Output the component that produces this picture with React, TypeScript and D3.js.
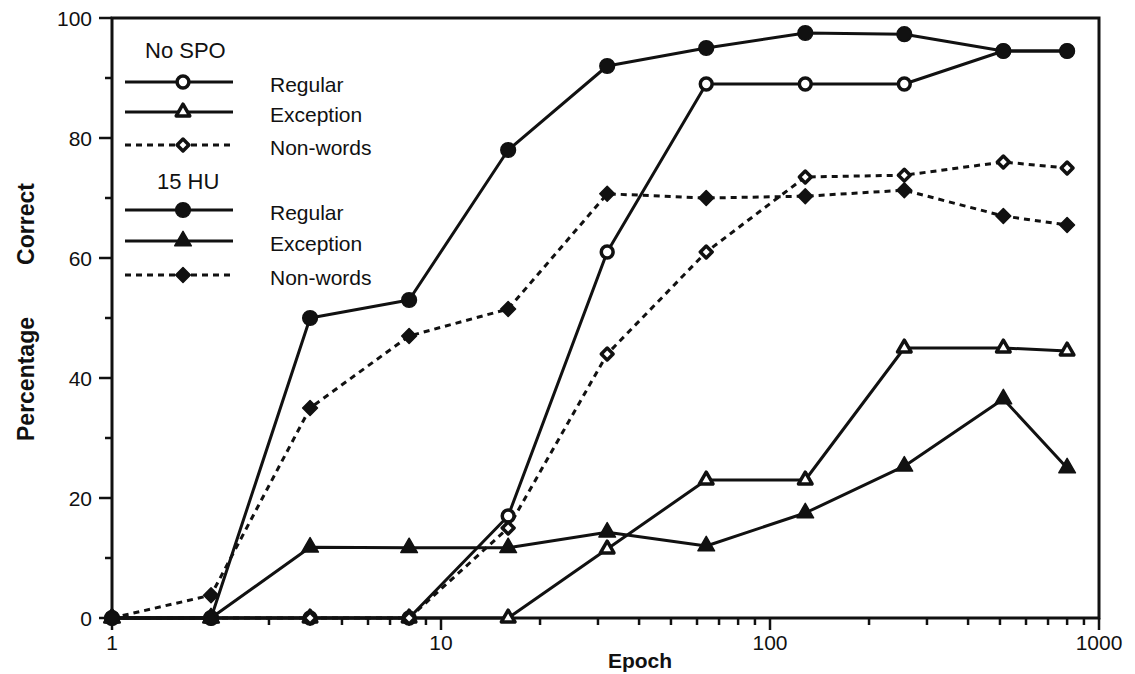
import React from "react";
import * as d3 from "d3";

const epochs = [1, 2, 4, 8, 16, 32, 64, 128, 256, 512, 800];
const noSpoRegular = [0, 0, 0, 0, 17, 61, 89, 89, 89, 94.5, 94.5];
const noSpoException = [0, 0, 0, 0, 0, 11.5, 23, 23, 45, 45, 44.5];
const noSpoNonwords = [0, 0, 0, 0, 15, 44, 61, 73.5, 73.8, 76, 75];
const huRegular = [0, 0, 50, 53, 78, 92, 95, 97.5, 97.3, 94.5, 94.5];
const huException = [0, 0, 11.8, 11.7, 11.7, 14.3, 12, 17.5, 25.3, 36.5, 25];
const huNonwords = [0, 3.8, 35, 47, 51.5, 70.7, 70, 70.3, 71.3, 67, 65.5];

const yTicks = [0, 20, 40, 60, 80, 100];
const yMinor = [10, 30, 50, 70, 90];
const xMajor = [1, 10, 100, 1000];
const xLabels = ["1", "10", "100", "1000"];

type Marker = "circle" | "triangle" | "diamond";
interface Series {
  name: string;
  values: number[];
  marker: Marker;
  filled: boolean;
  dashed: boolean;
}

const series: Series[] = [
  { name: "Regular", values: noSpoRegular, marker: "circle", filled: false, dashed: false },
  { name: "Exception", values: noSpoException, marker: "triangle", filled: false, dashed: false },
  { name: "Non-words", values: noSpoNonwords, marker: "diamond", filled: false, dashed: true },
  { name: "Regular", values: huRegular, marker: "circle", filled: true, dashed: false },
  { name: "Exception", values: huException, marker: "triangle", filled: true, dashed: false },
  { name: "Non-words", values: huNonwords, marker: "diamond", filled: true, dashed: true },
];

const FONT = "'Liberation Sans', Arial, Helvetica, sans-serif";

function symbolPath(m: Marker, filled: boolean) {
  if (m === "circle") return d3.symbol(d3.symbolCircle, filled ? 170 : 110)();
  if (m === "triangle") return d3.symbol(d3.symbolTriangle, filled ? 120 : 80)();
  return d3.symbol(d3.symbolSquare, filled ? 110 : 70)();
}

function MarkerG({ s, x, y }: { s: Series; x: number; y: number }) {
  const rot = s.marker === "diamond" ? " rotate(45)" : "";
  return (
    <path
      d={symbolPath(s.marker, s.filled) || ""}
      transform={`translate(${x},${y})${rot}`}
      fill={s.filled ? "#111" : "#fff"}
      stroke="#111"
      strokeWidth={s.filled ? 1.5 : 3.5}
      strokeLinejoin="round"
    />
  );
}

export default function App() {
  const W = 1135, H = 674;
  const x = d3.scaleLog().domain([1, 1000]).range([112, 1099]);
  const y = d3.scaleLinear().domain([0, 100]).range([618, 18]);
  const line = d3
    .line<number>()
    .x((_, i) => x(epochs[i]))
    .y((v) => y(v));

  const minorX: number[] = [];
  [1, 10, 100].forEach((d) => {
    for (let k = 2; k <= 9; k++) minorX.push(d * k);
  });

  const legendRows = [
    { yy: 82, s: series[0] },
    { yy: 112, s: series[1] },
    { yy: 145, s: series[2] },
    { yy: 210, s: series[3] },
    { yy: 241, s: series[4] },
    { yy: 275, s: series[5] },
  ];

  return (
    <svg width={W} height={H} style={{ position: "absolute", left: 0, top: 0, background: "#fff" }} fontFamily={FONT}>
      <rect x={0} y={0} width={W} height={H} fill="#fff" />
      {/* frame */}
      <rect x={x(1)} y={y(100)} width={x(1000) - x(1)} height={y(0) - y(100)} fill="none" stroke="#111" strokeWidth={3} />
      {/* y ticks */}
      {yTicks.map((t) => (
        <g key={"yt" + t}>
          <line x1={x(1) - 13} x2={x(1)} y1={y(t)} y2={y(t)} stroke="#111" strokeWidth={2.5} />
          <text x={x(1) - 20} y={y(t)} dy="0.36em" textAnchor="end" fontSize={21} fill="#111">
            {t}
          </text>
        </g>
      ))}
      {yMinor.map((t) => (
        <line key={"ym" + t} x1={x(1) - 7} x2={x(1)} y1={y(t)} y2={y(t)} stroke="#111" strokeWidth={2.5} />
      ))}
      {/* x ticks */}
      {xMajor.map((t, i) => (
        <g key={"xt" + t}>
          <line x1={x(t)} x2={x(t)} y1={y(0)} y2={y(0) + 12} stroke="#111" strokeWidth={2.5} />
          <text x={x(t)} y={y(0) + 32} textAnchor="middle" fontSize={21} fill="#111">
            {xLabels[i]}
          </text>
        </g>
      ))}
      {minorX.map((t) => (
        <line key={"xm" + t} x1={x(t)} x2={x(t)} y1={y(0)} y2={y(0) + 7} stroke="#111" strokeWidth={2.5} />
      ))}
      {/* axis titles */}
      <text x={640} y={668} textAnchor="middle" fontSize={21} fontWeight="bold" fill="#111">
        Epoch
      </text>
      <text transform="translate(34,379) rotate(-90)" textAnchor="middle" fontSize={23} fontWeight="bold" fill="#111">
        Percentage
      </text>
      <text transform="translate(34,224) rotate(-90)" textAnchor="middle" fontSize={23} fontWeight="bold" fill="#111">
        Correct
      </text>
      {/* lines */}
      {series.map((s, i) => (
        <path
          key={"l" + i}
          d={line(s.values) || ""}
          fill="none"
          stroke="#111"
          strokeWidth={3}
          strokeDasharray={s.dashed ? "6 5" : undefined}
          strokeLinejoin="round"
        />
      ))}
      {/* markers */}
      {series.map((s, i) => (
        <g key={"m" + i}>
          {s.values.map((v, j) => (
            <MarkerG key={j} s={s} x={x(epochs[j])} y={y(v)} />
          ))}
        </g>
      ))}
      {/* legend */}
      <text x={145} y={50} dy="0.36em" fontSize={22} fill="#111">
        No SPO
      </text>
      <text x={157} y={181} dy="0.36em" fontSize={22} fill="#111">
        15 HU
      </text>
      {legendRows.map((r, i) => (
        <g key={"lg" + i}>
          <line
            x1={125}
            x2={233}
            y1={r.yy}
            y2={r.yy}
            stroke="#111"
            strokeWidth={3}
            strokeDasharray={r.s.dashed ? "6 5" : undefined}
          />
          <MarkerG s={r.s} x={183} y={r.yy} />
          <text x={270} y={r.yy + 2} dy="0.36em" fontSize={21} fill="#111">
            {r.s.name}
          </text>
        </g>
      ))}
    </svg>
  );
}
